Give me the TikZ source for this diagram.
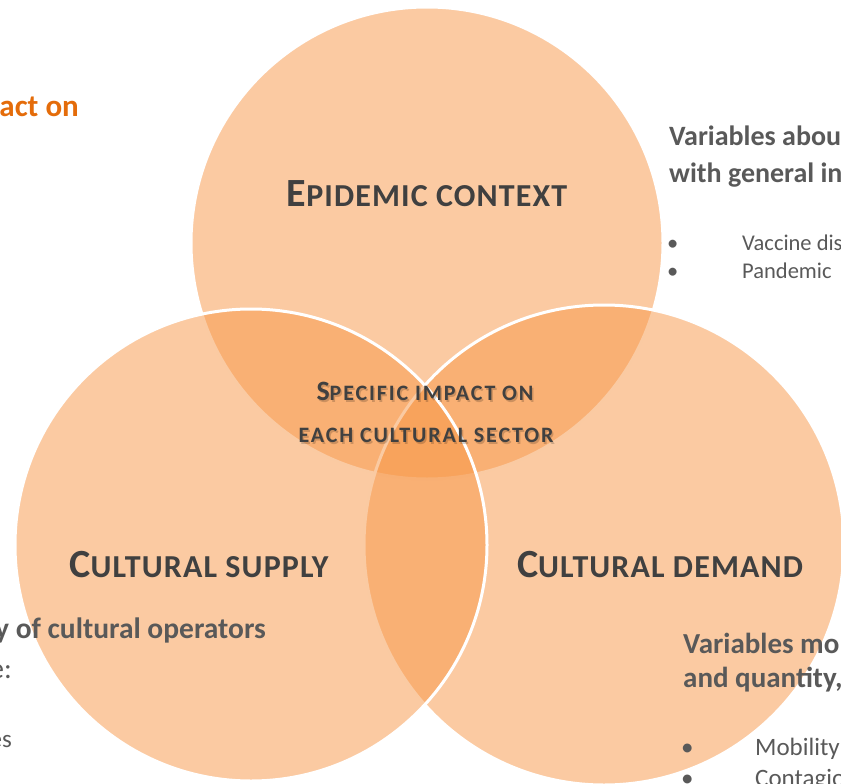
\documentclass[tikz,border=0pt]{standalone}
\usepackage{fontspec}
\setmainfont{Carlito}

\definecolor{vennorange}{HTML}{F79646}
\definecolor{headgray}{HTML}{404040}
\definecolor{sidegray}{HTML}{595959}
\definecolor{titleorange}{HTML}{E46C0A}

% fake small caps: big first letter, smaller capitals after it
\newcommand\bigsc[2]{{\fontsize{40}{40}\selectfont #1}{\fontsize{32}{32}\selectfont\addfontfeatures{LetterSpace=3.5}#2}}
\newcommand\midsc[2]{{\fontsize{28}{28}\selectfont #1}{\fontsize{22}{22}\selectfont\addfontfeatures{LetterSpace=8.5}#2}}

\begin{document}
\begin{tikzpicture}[
  x = 1pt, y = -1pt,
  venn/.style = {fill = vennorange, fill opacity = 0.5, draw = white, line width = 3pt},
  head/.style = {text = headgray, font = \bfseries, inner sep = 0, anchor = base},
  shade/.style = {text = black, text opacity = 0.18, font = \bfseries, inner sep = 0, anchor = base},
  side/.style = {text = sidegray, inner sep = 0},
  ]
  \useasboundingbox (0,0) rectangle (841,784);
  \clip (0,0) rectangle (841,784);

  % the three circles
  \path[venn] (427,243) circle [radius = 236pt];
  \path[venn] (604,545) circle [radius = 240pt];
  \path[venn] (251,545) circle [radius = 236pt];

  \node[head] (epidemic) at (427,206) {\bigsc{E}{PIDEMIC CONTEXT}};
  \node[head] (supply) at (199,577) {\bigsc{C}{ULTURAL SUPPLY}};
  \node[head] (demand) at (660,577) {\bigsc{C}{ULTURAL DEMAND}};

  % centre, with its shadow
  \node[shade] (impactshadow) at (426.5,402.5) {\midsc{S}{PECIFIC IMPACT ON}};
  \node[shade] (sectorshadow) at (427.5,444.5) {\midsc{}{EACH CULTURAL SECTOR}};
  \node[head] (impact) at (425,400) {\midsc{S}{PECIFIC IMPACT ON}};
  \node[head] (sector) at (426,442) {\midsc{}{EACH CULTURAL SECTOR}};

  % texts cut by the frame
  \node[inner sep = 0, anchor = base east, text = titleorange,
        font = \bfseries\fontsize{31}{31}\selectfont] (title) at (79,116) {act on};

  \node[side, anchor = base west, font = \bfseries\fontsize{28}{28}\selectfont] (contextone) at (669,145) {Variables abou};
  \node[side, anchor = base west, font = \bfseries\fontsize{28}{28}\selectfont] (contexttwo) at (669,182) {with general in};
  \node[side, anchor = base west, font = \fontsize{22.5}{22.5}\selectfont] (vaccine) at (667,250) {\makebox[75pt][l]{•}Vaccine dis};
  \node[side, anchor = base west, font = \fontsize{22.5}{22.5}\selectfont] (pandemic) at (667,278) {\makebox[75pt][l]{•}Pandemic};

  \node[side, anchor = base east, font = \bfseries\fontsize{29.5}{29.5}\selectfont] (supplyone) at (266,638) {y of cultural operators};
  \node[side, anchor = base east, font = \fontsize{29}{29}\selectfont] (supplytwo) at (12,678) {e:};
  \node[side, anchor = base east, font = \fontsize{25}{25}\selectfont] (supplythree) at (12,747) {es};

  \node[side, anchor = base west, font = \bfseries\fontsize{29}{29}\selectfont] (demandone) at (683,653) {Variables mo};
  \node[side, anchor = base west, font = \bfseries\fontsize{29}{29}\selectfont] (demandtwo) at (683,687) {and quantity,};
  \node[side, anchor = base west, font = \fontsize{25}{25}\selectfont] (mobility) at (681,755) {\makebox[74pt][l]{•}Mobility};
  \node[side, anchor = base west, font = \fontsize{25}{25}\selectfont] (contagion) at (681,786) {\makebox[74pt][l]{•}Contagio};
\end{tikzpicture}
\end{document}
